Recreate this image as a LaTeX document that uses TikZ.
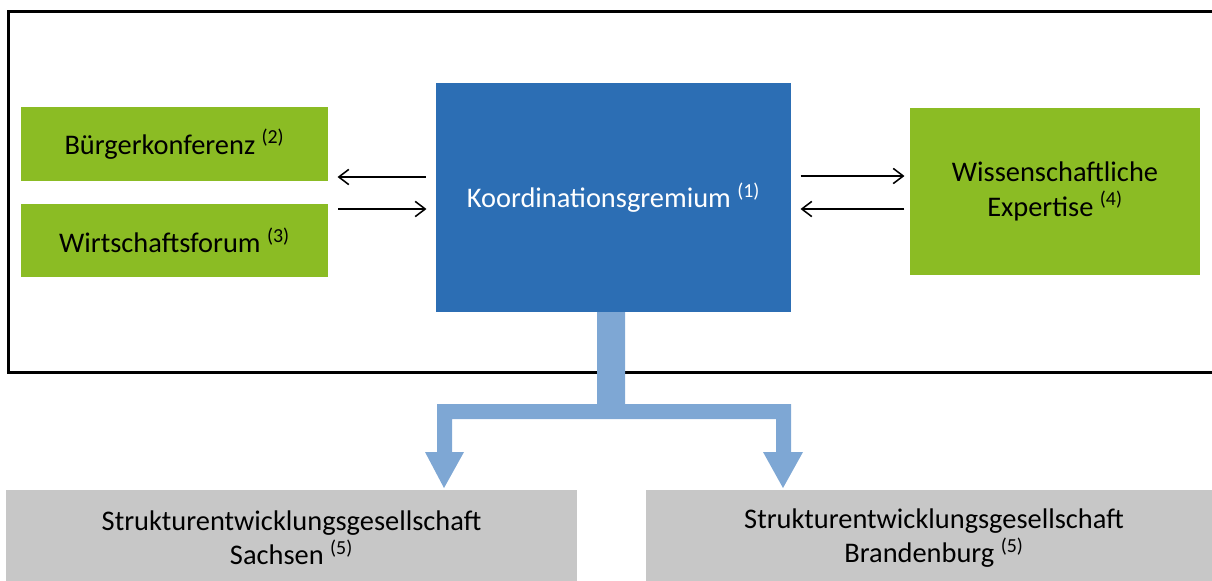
\documentclass[tikz,border=0pt]{standalone}
\usepackage{fontspec}
\setmainfont{Carlito}
\usetikzlibrary{arrows.meta}
\definecolor{gruen}{RGB}{139,188,36}
\definecolor{dunkelblau}{RGB}{44,110,180}
\definecolor{hellblau}{RGB}{126,167,212}
\definecolor{hellgrau}{RGB}{199,199,199}
\tikzset{
  box/.style={rectangle, inner sep=0pt, align=center,
    font=\fontsize{20.2}{24.5}\selectfont},
  gruenbox/.style={box, fill=gruen, text=black},
  blaubox/.style={box, fill=dunkelblau, text=white},
  graubox/.style={box, fill=hellgrau, text=black,
    minimum width=14.3cm, minimum height=2.4cm},
  link/.style={line width=1.1pt, -{Straight Barb[length=0.25cm,width=0.38cm,line width=1.1pt]}}
}
\begin{document}
\begin{tikzpicture}[x=0.025cm, y=-0.025cm]
  \useasboundingbox (0,0) rectangle (1212,580);
  % Rahmen
  \draw[line width=1.9pt] (1240,11.5) -- (8.5,11.5) -- (8.5,372.5) -- (1240,372.5);
  % Kaesten
  \node[gruenbox, minimum width=7.675cm, minimum height=1.85cm] (buerger) at (174.5,144)
    {Bürgerkonferenz \textsuperscript{(2)}};
  \node[gruenbox, minimum width=7.675cm, minimum height=1.825cm] (wirtschaft) at (174.5,240.5)
    {Wirtschaftsforum \textsuperscript{(3)}};
  \node[blaubox, minimum width=8.875cm, minimum height=5.725cm] (koord) at (613.5,197.5)
    {Koordinationsgremium \textsuperscript{(1)}};
  \node[gruenbox, minimum width=7.25cm, minimum height=4.175cm] (wissen) at (1055,191.5)
    {Wissenschaftliche\\Expertise \textsuperscript{(4)}};
  \node[graubox, minimum width=14.275cm] (sachsen) at (291.5,538)
    {Strukturentwicklungsgesellschaft\\Sachsen \textsuperscript{(5)}};
  \node[graubox, minimum width=14.4cm] (brandenburg) at (934,538)
    {Strukturentwicklungsgesellschaft\\Brandenburg \textsuperscript{(5)}};
  % Pfeile
  \draw[link, shorten <=0.25cm, shorten >=0.23cm] (koord.west |- 0,177) -- (buerger.east |- 0,177);
  \draw[link, shorten <=0.25cm, shorten >=0.23cm] (wirtschaft.east |- 0,209) -- (koord.west |- 0,209);
  \draw[link, shorten <=0.23cm, shorten >=0.13cm] (koord.east |- 0,176) -- (wissen.west |- 0,176);
  \draw[link, shorten <=0.13cm, shorten >=0.23cm] (wissen.west |- 0,209) -- (koord.east |- 0,209);
  % Verteilerpfeil
  \fill[hellblau] (597,312) -- (597,404) -- (437,404) -- (437,452) -- (425,452) -- (444,488)
    -- (464,452) -- (452,452) -- (452,419) -- (776,419) -- (776,452) -- (763,452) -- (783,488)
    -- (803,452) -- (791,452) -- (791,404) -- (625,404) -- (625,312) -- cycle;
\end{tikzpicture}
\end{document}
